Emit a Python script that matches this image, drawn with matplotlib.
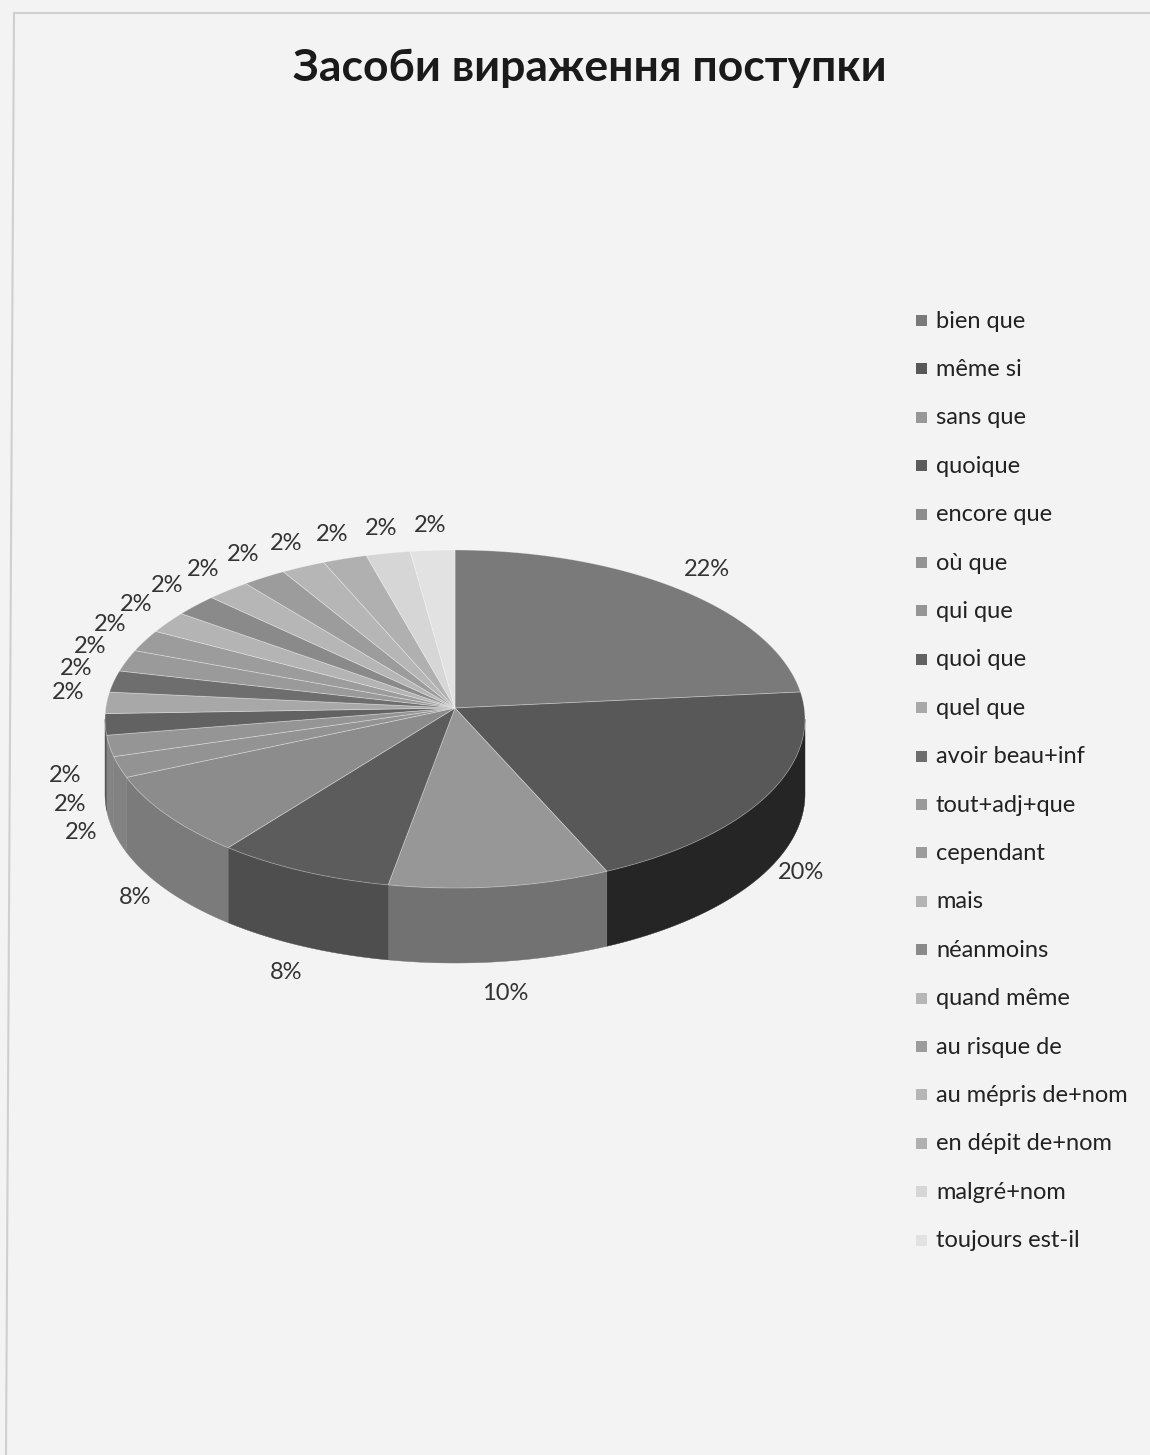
import matplotlib.pyplot as plt
import numpy as np
from matplotlib.patches import Polygon

plt.rcParams['font.family'] = ['Lato', 'DejaVu Sans']

title = "Засоби вираження поступки"

categories = ["bien que", "même si", "sans que", "quoique", "encore que",
              "où que", "qui que", "quoi que", "quel que", "avoir beau+inf",
              "tout+adj+que", "cependant", "mais", "néanmoins", "quand même",
              "au risque de", "au mépris de+nom", "en dépit de+nom",
              "malgré+nom", "toujours est-il"]
values = [22, 20, 10, 8, 8,
          2, 2, 2, 2, 2,
          2, 2, 2, 2, 2,
          2, 2, 2, 2, 2]

# grey shades of the scanned print
colors = ["#7a7a7a", "#585858", "#979797", "#5c5c5c", "#8c8c8c",
          "#939393", "#959595", "#626262", "#a8a8a8", "#6e6e6e",
          "#9a9a9a", "#9c9c9c", "#b4b4b4", "#8a8a8a", "#b6b6b6",
          "#9c9c9c", "#b6b6b6", "#b0b0b0", "#d6d6d6", "#e2e2e2"]

W, H = 1150, 1455
fig = plt.figure(figsize=(W / 100, H / 100), dpi=100)
fig.patch.set_facecolor("#f3f3f3")
ax = fig.add_axes([0, 0, 1, 1])
ax.set_xlim(0, W)
ax.set_ylim(H, 0)
ax.axis("off")

# scanned page frame
ax.plot([14, W], [13, 13], color="#cfcfcf", lw=1.5)
ax.plot([14, 6], [13, H], color="#cfcfcf", lw=1.5)

ax.text(590, 68, title, ha="center", va="center", fontsize=32,
        fontweight="bold", color="#1a1a1a")

# pie geometry (pixels)
cx, apex_y = 455, 708
ell_y = 719
rx, ry = 350, 169
depth = 75


def shade(hex_color, f):
    c = np.array([int(hex_color[i:i + 2], 16) for i in (1, 3, 5)]) / 255.0
    return tuple(c * f)


total = sum(values)
cum = np.concatenate([[0], np.cumsum(values)])
t_start = 90 - 360 * cum[:-1] / total
t_end = 90 - 360 * cum[1:] / total

# side walls (front half only)
for k in range(len(values)):
    t = np.deg2rad(np.linspace(t_start[k], t_end[k], 200))
    front = np.sin(t) < 0
    if not front.any():
        continue
    ts = t[front]
    xs = cx + rx * np.cos(ts)
    ys = ell_y - ry * np.sin(ts)
    c = np.cos(ts).mean()
    f = 0.82 - 0.5 * max(c, 0) - 0.07 * min(c, 0)
    pts = np.vstack([np.column_stack([xs, ys]),
                     np.column_stack([xs[::-1], ys[::-1] + depth])])
    ax.add_patch(Polygon(pts, closed=True, facecolor=shade(colors[k], f),
                         edgecolor=shade(colors[k], f), lw=0.3))

# top faces
for k in range(len(values)):
    t = np.deg2rad(np.linspace(t_start[k], t_end[k], 120))
    xs = cx + rx * np.cos(t)
    ys = ell_y - ry * np.sin(t)
    pts = np.vstack([[cx, apex_y], np.column_stack([xs, ys])])
    ax.add_patch(Polygon(pts, closed=True, facecolor=colors[k],
                         edgecolor=(1, 1, 1, 0.35), lw=0.6))

# percentage labels
mid = np.deg2rad((t_start + t_end) / 2)
for k in range(len(values)):
    s, c = np.sin(mid[k]), np.cos(mid[k])
    if s >= 0:
        lx, ly = cx + 389 * c, 710 - 185 * s
    else:
        lx, ly = cx + 390 * c, 768 - 227 * s
    ax.text(lx, ly, f"{values[k]}%", ha="center", va="center",
            fontsize=17, color="#333333")

# legend
ly0, step = 321, 48.4
for k, name in enumerate(categories):
    y = ly0 + k * step
    ax.add_patch(plt.Rectangle((916, y - 6), 11, 11, facecolor=colors[k],
                               edgecolor="none"))
    ax.text(936, y, name, ha="left", va="center", fontsize=17,
            color="#222222")

fig.savefig("out.png", dpi=100, facecolor=fig.get_facecolor())
